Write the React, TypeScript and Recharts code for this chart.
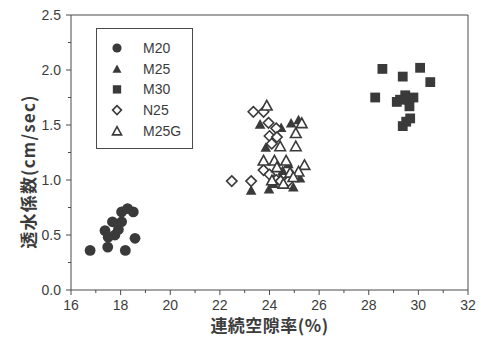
import React from "react";
import {
  Legend,
  ReferenceLine,
  Scatter,
  ScatterChart,
  XAxis,
  YAxis,
} from "recharts";

// values: [空隙率 %, 透水係数 cm/sec]
const m20: [number, number][] = [
  [16.77, 0.36], [17.48, 0.39], [18.19, 0.36], [18.58, 0.47],
  [17.37, 0.54], [17.77, 0.5], [17.5, 0.48], [17.67, 0.62],
  [18.04, 0.62], [17.91, 0.55], [18.04, 0.71], [18.28, 0.74],
  [18.51, 0.71],
];
const m25: [number, number][] = [
  [23.26, 0.91], [23.98, 0.92], [23.62, 1.51], [23.85, 1.3],
  [24.47, 1.48], [24.87, 1.52], [25.17, 1.55], [24.53, 1.09],
  [24.96, 0.94], [24.16, 0.97], [25.23, 1.02], [24.76, 1.15],
  [24.43, 1.03], [24.9, 1.06],
];
const m30: [number, number][] = [
  [28.26, 1.75], [28.55, 2.01], [29.37, 1.94], [30.07, 2.02],
  [30.48, 1.89], [29.13, 1.71], [29.47, 1.77], [29.8, 1.75],
  [29.64, 1.67], [29.67, 1.56], [29.37, 1.49], [29.51, 1.53],
  [29.26, 1.73], [29.62, 1.73],
];
const n25: [number, number][] = [
  [22.48, 0.99], [23.26, 0.99], [23.35, 1.62], [23.76, 1.62],
  [23.96, 1.52], [24.27, 1.47], [24.0, 1.4], [24.09, 1.33],
  [23.76, 1.09], [24.0, 1.05], [24.27, 1.0], [24.45, 0.99],
  [24.76, 0.99], [24.3, 1.39],
];
const m25g: [number, number][] = [
  [23.89, 1.68], [25.3, 1.52], [25.06, 1.43], [24.43, 1.31],
  [25.06, 1.31], [23.76, 1.18], [24.2, 1.18], [24.67, 1.18],
  [25.41, 1.14], [25.17, 1.08], [24.83, 1.07], [24.1, 1.0],
  [24.56, 0.97], [24.96, 1.03], [24.3, 1.12],
];

const xTicks = [16, 17, 18, 19, 20, 21, 22, 23, 24, 25, 26, 27, 28, 29, 30, 31, 32];
const yTicks = [0, 0.25, 0.5, 0.75, 1, 1.25, 1.5, 1.75, 2, 2.25, 2.5];

const INK = "#3a3a3a";
const AXIS = "#4a4a4a";
const TEXT = "#3c3c3c";

type Kind = "circle" | "triangle" | "square" | "diamond";

const series: { name: string; data: [number, number][]; kind: Kind; filled: boolean }[] = [
  { name: "M20", data: m20, kind: "circle", filled: true },
  { name: "M25", data: m25, kind: "triangle", filled: true },
  { name: "M30", data: m30, kind: "square", filled: true },
  { name: "N25", data: n25, kind: "diamond", filled: false },
  { name: "M25G", data: m25g, kind: "triangle", filled: false },
];

function Marker({ kind, filled, cx, cy, s = 1 }: { kind: Kind; filled: boolean; cx: number; cy: number; s?: number }) {
  const fill = filled ? INK : "#fff";
  const stroke = INK;
  const sw = filled ? 0 : 1.6;
  if (kind === "circle") return <circle cx={cx} cy={cy} r={5.4 * s} fill={fill} />;
  if (kind === "square") {
    const h = 4.9 * s;
    return <rect x={cx - h} y={cy - h} width={h * 2} height={h * 2} fill={fill} />;
  }
  if (kind === "diamond") {
    const h = 5.2 * s;
    return (
      <path
        d={`M${cx},${cy - h}L${cx + h},${cy}L${cx},${cy + h}L${cx - h},${cy}Z`}
        fill={fill}
        stroke={stroke}
        strokeWidth={sw}
      />
    );
  }
  const w = 5.3 * s;
  const h = 4.8 * s;
  return (
    <path
      d={`M${cx},${cy - h}L${cx + w},${cy + h}L${cx - w},${cy + h}Z`}
      fill={fill}
      stroke={stroke}
      strokeWidth={sw}
      strokeLinejoin="miter"
    />
  );
}

const XTick = (props: any) => {
  const { x, y, payload } = props;
  const major = payload.value % 2 === 0;
  return (
    <g>
      <line x1={x} x2={x} y1={y} y2={y + (major ? 5 : 3)} stroke={AXIS} />
      {major && (
        <text x={x} y={y + 20} textAnchor="middle" fontSize={14} fill={TEXT} fontFamily="Liberation Sans, Arial, sans-serif">
          {payload.value}
        </text>
      )}
    </g>
  );
};

const YTick = (props: any) => {
  const { x, y, payload } = props;
  const major = Number.isInteger(payload.value * 2);
  return (
    <g>
      <line x1={x} x2={x - (major ? 5 : 3)} y1={y} y2={y} stroke={AXIS} />
      {major && (
        <text x={x - 10} y={y + 5} textAnchor="end" fontSize={14} fill={TEXT} fontFamily="Liberation Sans, Arial, sans-serif">
          {payload.value.toFixed(1)}
        </text>
      )}
    </g>
  );
};

const LegendBox = () => (
  <svg width={97} height={121}>
    <rect x={0.5} y={0.5} width={96} height={120} fill="#fff" stroke={AXIS} />
    {series.map((s, i) => (
      <g key={s.name}>
        <Marker kind={s.kind} filled={s.filled} cx={21} cy={20 + i * 20.7} s={0.85} />
        <text x={47} y={25 + i * 20.7} fontSize={14} fill={TEXT} fontFamily="Liberation Sans, Arial, sans-serif">
          {s.name}
        </text>
      </g>
    ))}
  </svg>
);

export default function App() {
  return (
    <div style={{ position: "absolute", left: 0, top: 0, width: 481, height: 344, background: "#fff" }}>
      <ScatterChart width={481} height={344} margin={{ top: 15, right: 13, bottom: 0, left: 0 }}>
        <XAxis
          type="number"
          dataKey="x"
          domain={[16, 32]}
          ticks={xTicks}
          interval={0}
          height={54}
          tickSize={0}
          tickMargin={0}
          tick={<XTick />}
          stroke={AXIS}
          label={{
            content: ({ viewBox }: any) => (
              <text
                x={viewBox.x + viewBox.width / 2}
                y={viewBox.y + 42}
                textAnchor="middle"
                fontSize={17}
                fontWeight={700}
                letterSpacing={0.5}
                fill={TEXT}
                fontFamily="Noto Sans CJK JP, sans-serif"
              >
                連続空隙率(%)
              </text>
            ),
          }}
        />
        <YAxis
          type="number"
          dataKey="y"
          domain={[0, 2.5]}
          ticks={yTicks}
          interval={0}
          width={71}
          tickSize={0}
          tickMargin={0}
          tick={<YTick />}
          stroke={AXIS}
          label={{
            content: ({ viewBox }: any) => {
              const cx = 27.5;
              const cy = viewBox.y + viewBox.height / 2 + 19;
              return (
                <text
                  x={cx}
                  y={cy}
                  transform={`rotate(-90 ${cx} ${cy})`}
                  textAnchor="middle"
                  dominantBaseline="central"
                  fontSize={17}
                  fontWeight={700}
                  letterSpacing={1.2}
                  fill={TEXT}
                  fontFamily="Noto Sans CJK JP, sans-serif"
                >
                  透水係数(cm/sec)
                </text>
              );
            },
          }}
        />
        <ReferenceLine y={2.5} stroke={AXIS} />
        <ReferenceLine x={32} stroke={AXIS} />
        <Legend
          layout="vertical"
          align="center"
          verticalAlign="middle"
          content={() => <LegendBox />}
          wrapperStyle={{ left: 96, top: 28, width: 97, height: 121 }}
        />
        {series.map((s) => (
          <Scatter
            key={s.name}
            name={s.name}
            data={s.data.map(([x, y]) => ({ x, y }))}
            isAnimationActive={false}
            shape={(p: any) => <Marker kind={s.kind} filled={s.filled} cx={p.cx} cy={p.cy} />}
          />
        ))}
      </ScatterChart>
    </div>
  );
}
